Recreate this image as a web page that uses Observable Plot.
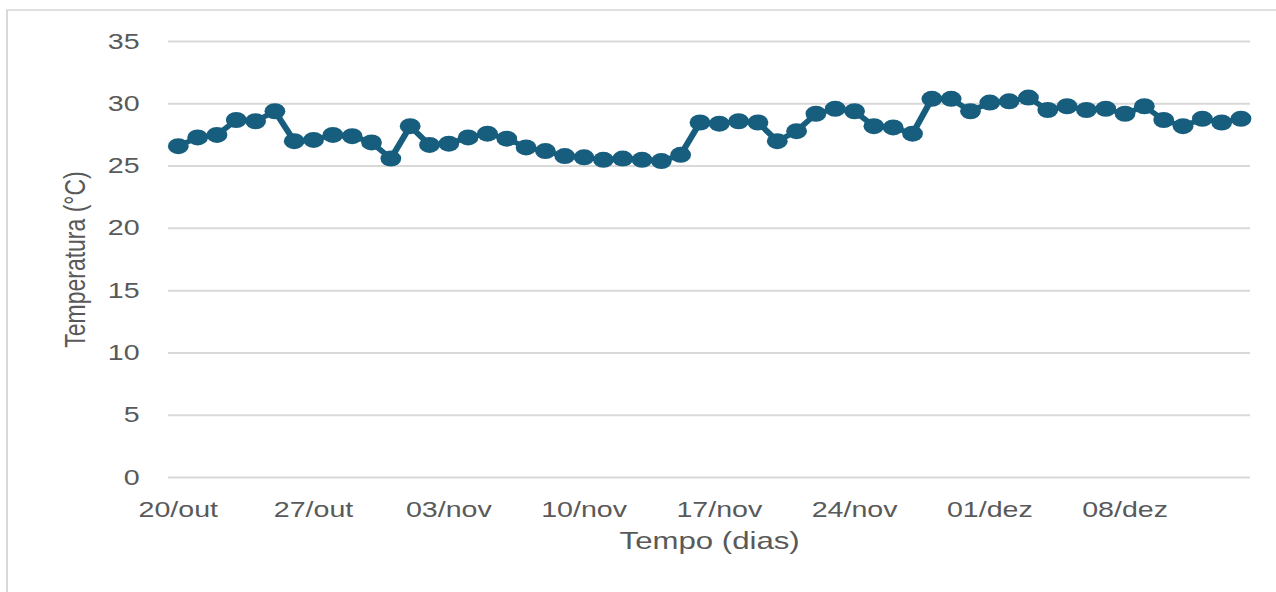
<!DOCTYPE html>
<html>
<head>
<meta charset="utf-8">
<script src="https://cdn.jsdelivr.net/npm/d3@7"></script>
<script src="https://cdn.jsdelivr.net/npm/@observablehq/plot@0.6"></script>
<style>
  html, body { margin: 0; padding: 0; background: #ffffff; }
  #chart { width: 1276px; height: 592px; overflow: hidden; }
</style>
</head>
<body>
<div id="chart"></div>
<script>
// ---- Data ----
const dates = [
  "2024-10-20","2024-10-21","2024-10-22","2024-10-23","2024-10-24","2024-10-25","2024-10-26",
  "2024-10-27","2024-10-28","2024-10-29","2024-10-30","2024-10-31","2024-11-01","2024-11-02",
  "2024-11-03","2024-11-04","2024-11-05","2024-11-06","2024-11-07","2024-11-08","2024-11-09",
  "2024-11-10","2024-11-11","2024-11-12","2024-11-13","2024-11-14","2024-11-15","2024-11-16",
  "2024-11-17","2024-11-18","2024-11-19","2024-11-20","2024-11-21","2024-11-22","2024-11-23",
  "2024-11-24","2024-11-25","2024-11-26","2024-11-27","2024-11-28","2024-11-29","2024-11-30",
  "2024-12-01","2024-12-02","2024-12-03","2024-12-04","2024-12-05","2024-12-06","2024-12-07",
  "2024-12-08","2024-12-09","2024-12-10","2024-12-11","2024-12-12","2024-12-13","2024-12-14"
];
const temperatures = [
  26.6, 27.3, 27.5, 28.7, 28.6, 29.4, 27.0,
  27.1, 27.5, 27.4, 26.9, 25.6, 28.2, 26.7,
  26.8, 27.3, 27.6, 27.2, 26.5, 26.2, 25.8,
  25.7, 25.5, 25.6, 25.5, 25.4, 25.9, 28.5,
  28.4, 28.6, 28.5, 27.0, 27.8, 29.2, 29.6,
  29.4, 28.2, 28.1, 27.6, 30.4, 30.4, 29.4,
  30.1, 30.2, 30.5, 29.5, 29.8, 29.5, 29.6,
  29.2, 29.8, 28.7, 28.2, 28.8, 28.5, 28.8
];
const xTickDates = ["2024-10-20","2024-10-27","2024-11-03","2024-11-10","2024-11-17","2024-11-24","2024-12-01","2024-12-08"];
const xTickLabels = ["20/out","27/out","03/nov","10/nov","17/nov","24/nov","01/dez","08/dez"];
const yTicks = [0, 5, 10, 15, 20, 25, 30, 35];
const xTitle = "Tempo (dias)";
const yTitle = "Temperatura (°C)";

// ---- Build table ----
const parse = s => new Date(s + "T00:00:00Z");
const data = dates.map((d, i) => ({date: parse(d), temp: temperatures[i]}));
const tickDates = xTickDates.map(parse);
const labelMap = new Map(tickDates.map((d, i) => [+d, xTickLabels[i]]));

// The reference is horizontally stretched; draw in a narrower logical space and stretch.
const W = 982;
const S = 1276 / W;
const px = v => v / S;

const color = "#175e7e";
const textColor = "#595959";

const chart = Plot.plot({
  width: W,
  height: 592,
  marginLeft: px(168),
  marginRight: px(26),
  marginTop: 41,
  marginBottom: 115,
  style: {fontFamily: "'Liberation Sans', Arial, sans-serif", color: textColor, background: "#ffffff"},
  x: {type: "utc", domain: [new Date("2024-10-19T12:00:00Z"), new Date("2024-12-14T12:00:00Z")]},
  y: {domain: [0, 35]},
  marks: [
    Plot.gridY(yTicks, {stroke: "#d9d9d9", strokeOpacity: 1, strokeWidth: 2}),
    Plot.axisY(yTicks, {tickSize: 0, tickPadding: px(29), fontSize: 22, label: null, fill: textColor}),
    Plot.axisX(tickDates, {tickSize: 0, tickPadding: 24, fontSize: 22, label: null, fill: textColor,
      tickFormat: d => labelMap.get(+d)}),
    Plot.lineY(data, {x: "date", y: "temp", stroke: color, strokeWidth: 5}),
    Plot.dot(data, {x: "date", y: "temp", r: 8, fill: color}),
    Plot.text([xTitle], {frameAnchor: "bottom", dy: 71, fontSize: 24, fill: textColor}),
    Plot.text([yTitle], {frameAnchor: "left", textAnchor: "middle", dx: -px(93), rotate: -90, fontSize: 23, fill: textColor})
  ]
});

chart.setAttribute("viewBox", `0 0 ${W} 592`);
chart.setAttribute("width", 1276);
chart.setAttribute("height", 592);
chart.setAttribute("preserveAspectRatio", "none");
chart.style.width = "1276px";
chart.style.height = "592px";
chart.style.maxWidth = "none";

// light chart-area border
d3.select(chart).insert("rect", ":first-child")
  .attr("x", px(7)).attr("y", 10)
  .attr("width", W).attr("height", 700)
  .attr("fill", "none").attr("stroke", "#d9d9d9").attr("stroke-width", 1.6);

document.getElementById("chart").appendChild(chart);
</script>
</body>
</html>
